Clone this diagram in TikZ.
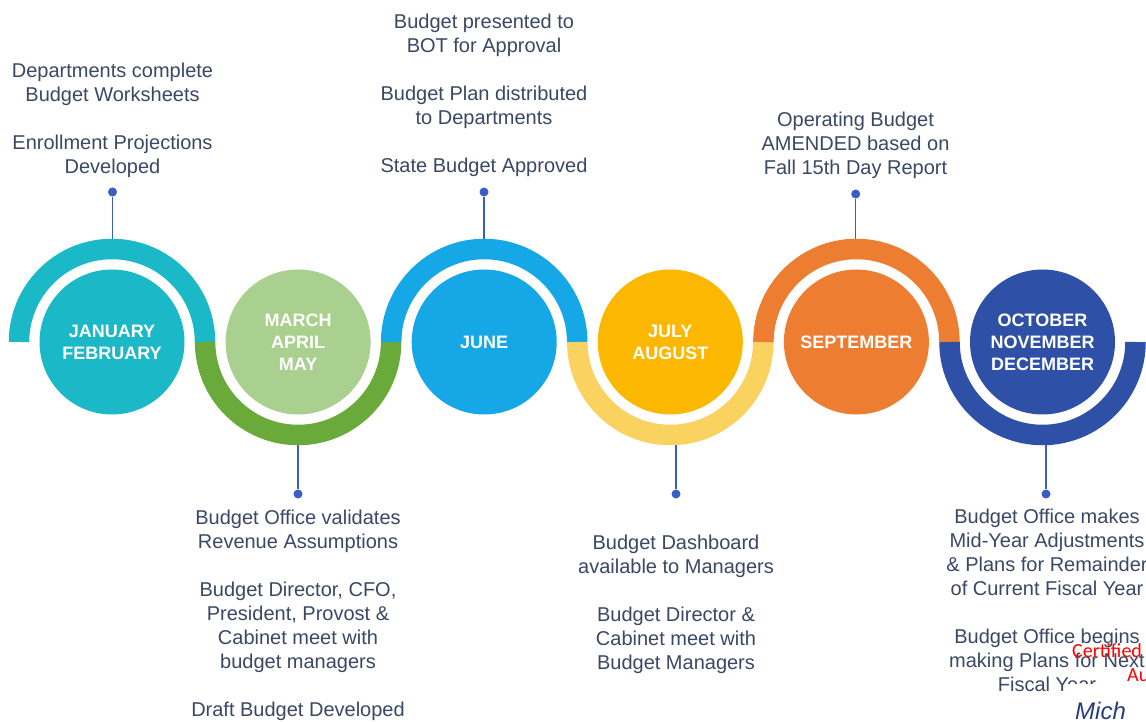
\documentclass[tikz,border=0pt]{standalone}
\usepackage{fontspec}
\setmainfont{Liberation Sans}
\newfontfamily\stampfont{Carlito}
\definecolor{cteal}{RGB}{27,185,200}
\definecolor{clgreen}{RGB}{169,208,142}
\definecolor{cgreen}{RGB}{106,170,58}
\definecolor{cblue}{RGB}{22,167,230}
\definecolor{camber}{RGB}{252,183,0}
\definecolor{cyellow}{RGB}{250,210,95}
\definecolor{corange}{RGB}{237,125,49}
\definecolor{cnavy}{RGB}{46,80,166}
\definecolor{linkblue}{RGB}{60,92,200}
\definecolor{notetext}{RGB}{58,72,100}
\definecolor{signink}{RGB}{40,60,130}
\begin{document}
\begin{tikzpicture}[x=1pt,y=1pt,
  month/.style={circle, minimum size=145pt, inner sep=0pt, text=white,
    font=\bfseries\fontsize{18}{22}\selectfont, align=center},
  ring/.style={line width=20.5pt},
  dotnode/.style={circle, fill=linkblue, inner sep=0pt, minimum size=9pt},
  link/.style={draw=linkblue, line width=1.5pt},
  note/.style={text=notetext, font=\fontsize{20}{24}\selectfont, align=center,
    inner sep=0pt, anchor=north}]
\useasboundingbox (0,0) rectangle (1146,721);
\clip (0,0) rectangle (1146,721);
\fill[white] (0,0) rectangle (1146,721);

% month circles
\node[month, fill=cteal]   (jan) at (112,379)    {JANUARY\\FEBRUARY};
\node[month, fill=clgreen] (mar) at (298.1,379)  {MARCH\\APRIL\\MAY};
\node[month, fill=cblue]   (jun) at (484.2,379)  {JUNE};
\node[month, fill=camber]  (jul) at (670.3,379)  {JULY\\AUGUST};
\node[month, fill=corange] (sep) at (856.4,379)  {SEPTEMBER};
\node[month, fill=cnavy]   (oct) at (1042.5,379) {OCTOBER\\NOVEMBER\\DECEMBER};

% ring edge points
\coordinate (rjan) at ([yshift=25pt]jan.north);
\coordinate (rjun) at ([yshift=25pt]jun.north);
\coordinate (rsep) at ([yshift=25pt]sep.north);
\coordinate (rmar) at ([yshift=-25pt]mar.south);
\coordinate (rjul) at ([yshift=-25pt]jul.south);
\coordinate (roct) at ([yshift=-25pt]oct.south);

% dots
\node[dotnode] (djan) at (112.5,529) {};
\node[dotnode] (djun) at (484,529) {};
\node[dotnode] (dsep) at (855.7,527) {};
\node[dotnode] (dmar) at (298,227) {};
\node[dotnode] (djul) at (676,227) {};
\node[dotnode] (doct) at (1046,227) {};

% connectors
\draw[link] (djan) -- (djan |- rjan);
\draw[link] (djun) -- (djun |- rjun);
\draw[link] (dsep) -- (dsep |- rsep);
\draw[link] (dmar) -- (dmar |- rmar);
\draw[link] (djul) -- (djul |- rjul);
\draw[link] (doct) -- (doct |- roct);

% rings
\draw[ring, cteal]   (jan.center) ++(180:93) arc[start angle=180, end angle=0,   radius=93];
\draw[ring, cgreen]  (mar.center) ++(180:93) arc[start angle=180, end angle=360, radius=93];
\draw[ring, cblue]   (jun.center) ++(180:93) arc[start angle=180, end angle=0,   radius=93];
\draw[ring, cyellow] (jul.center) ++(180:93) arc[start angle=180, end angle=360, radius=93];
\draw[ring, corange] (sep.center) ++(180:93) arc[start angle=180, end angle=0,   radius=93];
\draw[ring, cnavy]   (oct.center) ++(180:93) arc[start angle=180, end angle=360, radius=93];

% notes
\node[note] (tjan) at (112.5,658.6) {Departments complete\\Budget Worksheets\\[24pt]Enrollment Projections\\Developed};
\node[note] (tjun) at (484,707.6) {Budget presented to\\BOT for Approval\\[24pt]Budget Plan distributed\\to Departments\\[24pt]State Budget Approved};
\node[note] (tsep) at (855.5,609.1) {Operating Budget\\AMENDED based on\\Fall 15th Day Report};
\node[note] (tmar) at (298,211.6) {Budget Office validates\\Revenue Assumptions\\[24pt]Budget Director, CFO,\\President, Provost \&\\Cabinet meet with\\budget managers\\[24pt]Draft Budget Developed};
\node[note] (tjul) at (676,186.6) {Budget Dashboard\\available to Managers\\[24pt]Budget Director \&\\Cabinet meet with\\Budget Managers};
\node[note] (toct) at (1047,212.6) {Budget Office makes\\Mid-Year Adjustments\\\& Plans for Remainder\\of Current Fiscal Year\\[24pt]Budget Office begins\\making Plans for Next\\Fiscal Year};

% certification stamp overlay
\fill[white] (1067,0) rectangle (1146,37);
\node[anchor=base west, inner sep=0pt, text=red, font=\stampfont\fontsize{20}{24}\selectfont] (cert) at (1072,64) {Certified};
\node[anchor=base west, inner sep=0pt, text=red, font=\stampfont\fontsize{20}{24}\selectfont] (au) at (1127,39.5) {Au};
\node[anchor=base west, inner sep=0pt, text=signink, font=\itshape\fontsize{24}{26}\selectfont] (sign) at (1075,2) {Mich};
\end{tikzpicture}
\end{document}
